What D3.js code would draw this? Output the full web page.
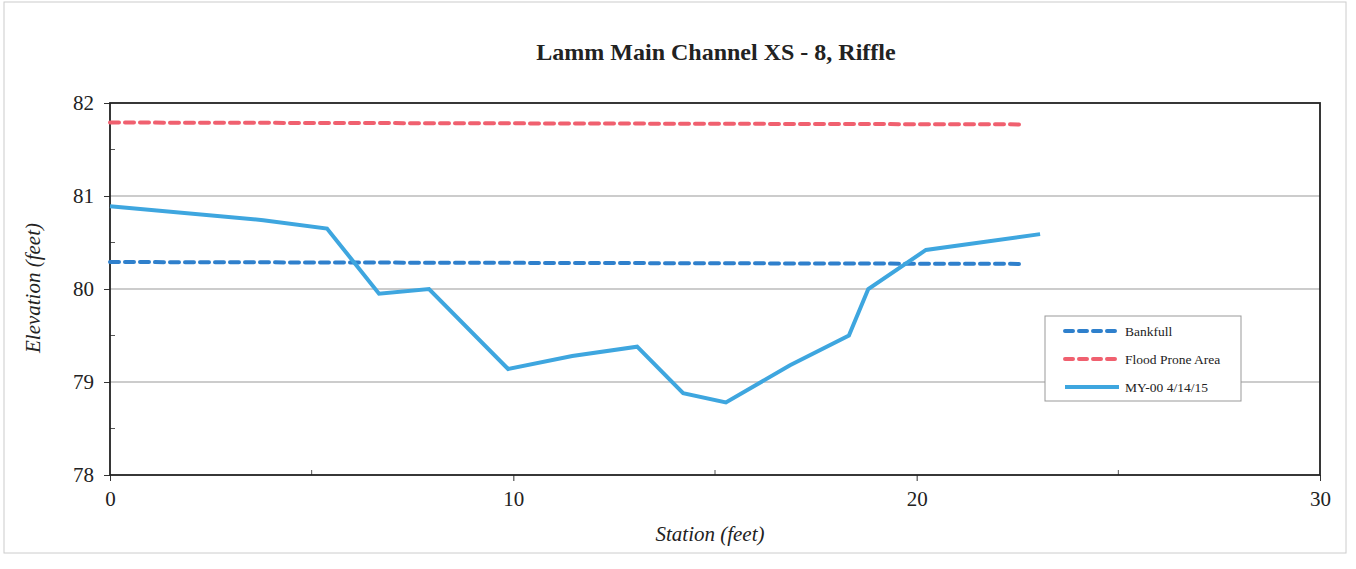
<!DOCTYPE html>
<html>
<head>
<meta charset="utf-8">
<script src="https://cdn.jsdelivr.net/npm/d3@7"></script>
<style>
  body { margin: 0; background: #fff; }
  svg text { font-family: "Liberation Serif", "DejaVu Serif", serif; fill: #222; }
</style>
</head>
<body>
<svg id="chart" width="1356" height="569"></svg>
<script>
// station (feet) of the surveyed points
var stations = [0, 3.8, 5.38, 6.67, 7.91, 9.87, 11.46, 13.07, 14.21, 15.27, 16.86, 18.32, 18.8, 20.23, 23.06];
// MY-00 4/14/15 elevations
var elevations = [80.89, 80.74, 80.65, 79.95, 80.0, 79.14, 79.28, 79.38, 78.88, 78.78, 79.18, 79.5, 80.0, 80.42, 80.59];

var bankfullX = [0, 22.6];
var bankfullY = [80.29, 80.27];
var floodX = [0, 22.6];
var floodY = [81.79, 81.77];

var xTicks = [0, 10, 20, 30];
var yTicks = [78, 79, 80, 81, 82];

var series = [
    {name: "Bankfull", xs: bankfullX, ys: bankfullY, color: "#2f80cc", dash: "9,6"},
    {name: "Flood Prone Area", xs: floodX, ys: floodY, color: "#f0606f", dash: "9,6"},
    {name: "MY-00 4/14/15", xs: stations, ys: elevations, color: "#3ea6df", dash: null}
];

var margin = {top: 103, right: 36, bottom: 94, left: 110},
    W = 1356, H = 569,
    w = W - margin.left - margin.right,
    h = H - margin.top - margin.bottom;

var svg = d3.select("#chart");

// faint outer frame of the scanned chart
svg.append("rect")
    .attr("x", 4).attr("y", 2)
    .attr("width", 1342).attr("height", 551)
    .style("fill", "none")
    .style("stroke", "#ccc")
    .style("stroke-width", 1);

var g = svg.append("g").attr("transform", "translate(" + margin.left + "," + margin.top + ")");

var xScale = d3.scaleLinear().domain([0, 30]).range([0, w]);
var yScale = d3.scaleLinear().domain([78, 82]).range([h, 0]);

// gridlines
g.append("g").attr("class", "grid")
    .selectAll("line")
    .data(yTicks.slice(1, -1))
    .enter().append("line")
    .attr("x1", 0).attr("x2", w)
    .attr("y1", function(d) { return yScale(d); })
    .attr("y2", function(d) { return yScale(d); })
    .style("stroke", "#9a9a9a")
    .style("stroke-width", 1.2);

// axes
var xAxis = g.append("g")
    .attr("transform", "translate(0," + h + ")")
    .call(d3.axisBottom(xScale).tickValues(xTicks).tickSize(6).tickPadding(10).tickFormat(d3.format("d")));
var yAxis = g.append("g")
    .call(d3.axisLeft(yScale).tickValues(yTicks).tickSize(6).tickPadding(10).tickFormat(d3.format("d")));

[xAxis, yAxis].forEach(function(a) {
    a.select(".domain").remove();
    a.selectAll("line").style("stroke", "#333");
    a.selectAll("text").style("font-size", "21px").style("fill", "#222")
        .style("font-family", "'Liberation Serif', serif");
});

// minor ticks inside
g.append("g").selectAll("line")
    .data([78.5, 79.5, 80.5, 81.5])
    .enter().append("line")
    .attr("x1", 0).attr("x2", 5)
    .attr("y1", function(d) { return yScale(d); })
    .attr("y2", function(d) { return yScale(d); })
    .style("stroke", "#555");
g.append("g").selectAll("line")
    .data([5, 15, 25])
    .enter().append("line")
    .attr("x1", function(d) { return xScale(d); })
    .attr("x2", function(d) { return xScale(d); })
    .attr("y1", h).attr("y2", h - 5)
    .style("stroke", "#555");

// plot frame
g.append("rect")
    .attr("width", w).attr("height", h)
    .style("fill", "none")
    .style("stroke", "#222")
    .style("stroke-width", 1.8);

// data lines
var line = d3.line()
    .x(function(d) { return xScale(d[0]); })
    .y(function(d) { return yScale(d[1]); });

series.forEach(function(s) {
    var pts = s.xs.map(function(x, i) { return [x, s.ys[i]]; });
    g.append("path")
        .datum(pts)
        .attr("d", line)
        .style("fill", "none")
        .style("stroke", s.color)
        .style("stroke-width", 4)
        .style("stroke-linejoin", "miter")
        .style("stroke-linecap", s.dash ? "round" : "butt")
        .style("stroke-dasharray", s.dash);
});

// title
svg.append("text")
    .attr("x", 716).attr("y", 60)
    .attr("text-anchor", "middle")
    .style("font-size", "24px")
    .style("font-weight", "bold")
    .text("Lamm Main Channel XS - 8, Riffle");

// axis titles
svg.append("text")
    .attr("x", 710).attr("y", 541)
    .attr("text-anchor", "middle")
    .style("font-size", "21px")
    .style("font-style", "italic")
    .text("Station (feet)");
svg.append("text")
    .attr("transform", "translate(40,288) rotate(-90)")
    .attr("text-anchor", "middle")
    .style("font-size", "21px")
    .style("font-style", "italic")
    .text("Elevation (feet)");

// legend
var legend = svg.append("g").attr("transform", "translate(1045,316)");
legend.append("rect")
    .attr("width", 196).attr("height", 85)
    .style("fill", "#fff")
    .style("stroke", "#999")
    .style("stroke-width", 1);
var item = legend.selectAll(".item")
    .data(series)
    .enter().append("g")
    .attr("transform", function(d, i) { return "translate(0," + (15 + i * 28) + ")"; });
item.append("line")
    .attr("x1", 20).attr("x2", 74)
    .style("stroke", function(d) { return d.color; })
    .style("stroke-width", 4)
    .style("stroke-linecap", function(d) { return d.dash ? "round" : "butt"; })
    .style("stroke-dasharray", function(d) { return d.dash ? "8,6" : null; });
item.append("text")
    .attr("x", 80).attr("y", 5)
    .style("font-size", "13.5px")
    .text(function(d) { return d.name; });
</script>
</body>
</html>
